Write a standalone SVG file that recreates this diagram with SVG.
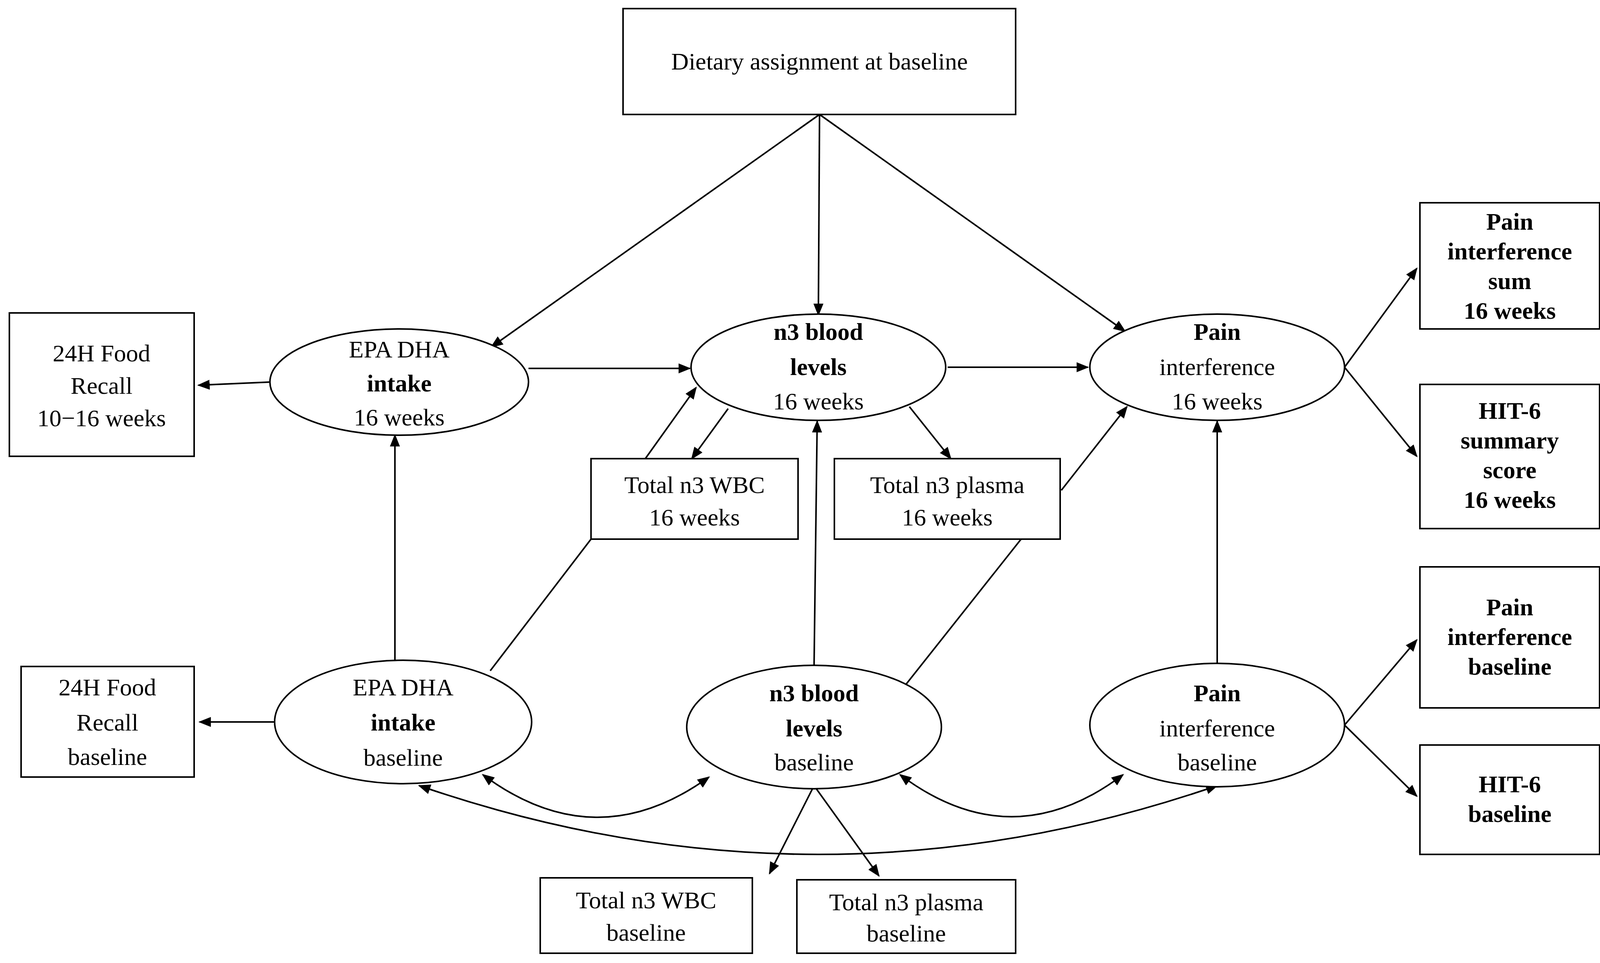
<svg xmlns="http://www.w3.org/2000/svg" width="4260" height="2465" viewBox="0 0 4260 2465">
<defs>
<marker id="a" viewBox="0 0 10 10" refX="9" refY="5" markerWidth="8" markerHeight="8" orient="auto-start-reverse"><path d="M0,1 L10,5 L0,9 z" fill="#000"/></marker>
<style>
rect,ellipse{fill:#fff;stroke:#000;stroke-width:4}
text{font-family:"Liberation Serif",serif;font-size:62px;text-anchor:middle;fill:#000}
.b{font-weight:bold}
#conn line,#conn path{stroke:#000;stroke-width:4;fill:none}
.m{marker-end:url(#a)}
.d{marker-end:url(#a);marker-start:url(#a)}
</style>
</defs>
<rect width="4260" height="2465" style="fill:#fff;stroke:none"/>
<g id="conn">
<line class="m" x1="2098" y1="293" x2="1258" y2="888"/>
<line class="m" x1="2098" y1="293" x2="2095" y2="806"/>
<line class="m" x1="2098" y1="293" x2="2880" y2="848"/>
<line class="m" x1="690" y1="978" x2="508" y2="986"/>
<line class="m" x1="1353" y1="943" x2="1766" y2="943"/>
<line class="m" x1="2426" y1="940" x2="2785" y2="940"/>
<line class="m" x1="1011" y1="1690" x2="1011" y2="1114"/>
<line class="m" x1="704" y1="1848" x2="511" y2="1848"/>
<line x1="1255" y1="1717" x2="1513" y2="1380"/>
<line class="m" x1="1652" y1="1174" x2="1782" y2="992"/>
<line class="m" x1="1864" y1="1046" x2="1771" y2="1174"/>
<line class="m" x1="2328" y1="1041" x2="2434" y2="1174"/>
<line class="m" x1="2084" y1="1704" x2="2092" y2="1078"/>
<line x1="2312" y1="1761" x2="2614" y2="1380"/>
<line class="m" x1="2717" y1="1255" x2="2885" y2="1041"/>
<line class="m" x1="3116" y1="1698" x2="3116" y2="1078"/>
<line class="m" x1="3442" y1="940" x2="3627" y2="687"/>
<line class="m" x1="3442" y1="940" x2="3627" y2="1168"/>
<line class="m" x1="3442" y1="1856" x2="3627" y2="1638"/>
<line class="m" x1="3442" y1="1856" x2="3627" y2="2038"/>
<line class="m" x1="2084" y1="2011" x2="1970" y2="2236"/>
<line class="m" x1="2084" y1="2011" x2="2250" y2="2242"/>
<path class="d" d="M1236,1983 Q1525,2198 1815,1989"/>
<path class="d" d="M2304,1983 Q2590,2198 2875,1983"/>
<path class="d" d="M1073,2011 Q2095,2363 3116,2011"/>
<path class="d" d="M4116,701 Q4277,1170 4122,1644"/>
<path class="d" d="M4116,1185 Q4346,1640 4124,2100"/>
</g>
<g id="diet"><rect x="1595" y="22" width="1005" height="271"/><text x="2098" y="178">Dietary assignment at baseline</text></g>
<g id="epa16"><ellipse cx="1022" cy="978" rx="331" ry="136"/><text x="1022" y="915">EPA DHA</text><text class="b" x="1022" y="1002">intake</text><text x="1022" y="1089">16 weeks</text></g>
<g id="n316"><ellipse cx="2095" cy="940" rx="326" ry="136"/><text class="b" x="2095" y="870">n3 blood</text><text class="b" x="2095" y="960">levels</text><text x="2095" y="1048">16 weeks</text></g>
<g id="pain16"><ellipse cx="3116" cy="940" rx="326" ry="136"/><text class="b" x="3116" y="870">Pain</text><text x="3116" y="960">interference</text><text x="3116" y="1048">16 weeks</text></g>
<g id="epab"><ellipse cx="1032" cy="1848" rx="329" ry="158"/><text x="1032" y="1780">EPA DHA</text><text class="b" x="1032" y="1870">intake</text><text x="1032" y="1960">baseline</text></g>
<g id="n3b"><ellipse cx="2084" cy="1861" rx="326" ry="158"/><text class="b" x="2084" y="1795">n3 blood</text><text class="b" x="2084" y="1885">levels</text><text x="2084" y="1972">baseline</text></g>
<g id="painb"><ellipse cx="3116" cy="1856" rx="326" ry="158"/><text class="b" x="3116" y="1795">Pain</text><text x="3116" y="1885">interference</text><text x="3116" y="1972">baseline</text></g>
<g id="food16"><rect x="24" y="801" width="473" height="367"/><text x="260" y="925">24H Food</text><text x="260" y="1008">Recall</text><text x="260" y="1091">10−16 weeks</text></g>
<g id="foodb"><rect x="54" y="1706" width="443" height="283"/><text x="275" y="1780">24H Food</text><text x="275" y="1870">Recall</text><text x="275" y="1958">baseline</text></g>
<g id="wbc16"><rect x="1513" y="1174" width="530" height="206"/><text x="1778" y="1262">Total n3 WBC</text><text x="1778" y="1345">16 weeks</text></g>
<g id="pl16"><rect x="2136" y="1174" width="578" height="206"/><text x="2425" y="1262">Total n3 plasma</text><text x="2425" y="1345">16 weeks</text></g>
<g id="wbcb"><rect x="1383" y="2247" width="543" height="193"/><text x="1654" y="2325">Total n3 WBC</text><text x="1654" y="2408">baseline</text></g>
<g id="plb"><rect x="2040" y="2252" width="560" height="188"/><text x="2320" y="2330">Total n3 plasma</text><text x="2320" y="2410">baseline</text></g>
<g id="sum16"><rect x="3635" y="519" width="460" height="323"/><text class="b" x="3865" y="588">Pain</text><text class="b" x="3865" y="664">interference</text><text class="b" x="3865" y="740">sum</text><text class="b" x="3865" y="816">16 weeks</text></g>
<g id="hit16"><rect x="3635" y="984" width="460" height="369"/><text class="b" x="3865" y="1072">HIT-6</text><text class="b" x="3865" y="1148">summary</text><text class="b" x="3865" y="1224">score</text><text class="b" x="3865" y="1300">16 weeks</text></g>
<g id="sumb"><rect x="3635" y="1451" width="460" height="361"/><text class="b" x="3865" y="1575">Pain</text><text class="b" x="3865" y="1651">interference</text><text class="b" x="3865" y="1727">baseline</text></g>
<g id="hitb"><rect x="3635" y="1907" width="460" height="280"/><text class="b" x="3865" y="2028">HIT-6</text><text class="b" x="3865" y="2104">baseline</text></g>
</svg>
